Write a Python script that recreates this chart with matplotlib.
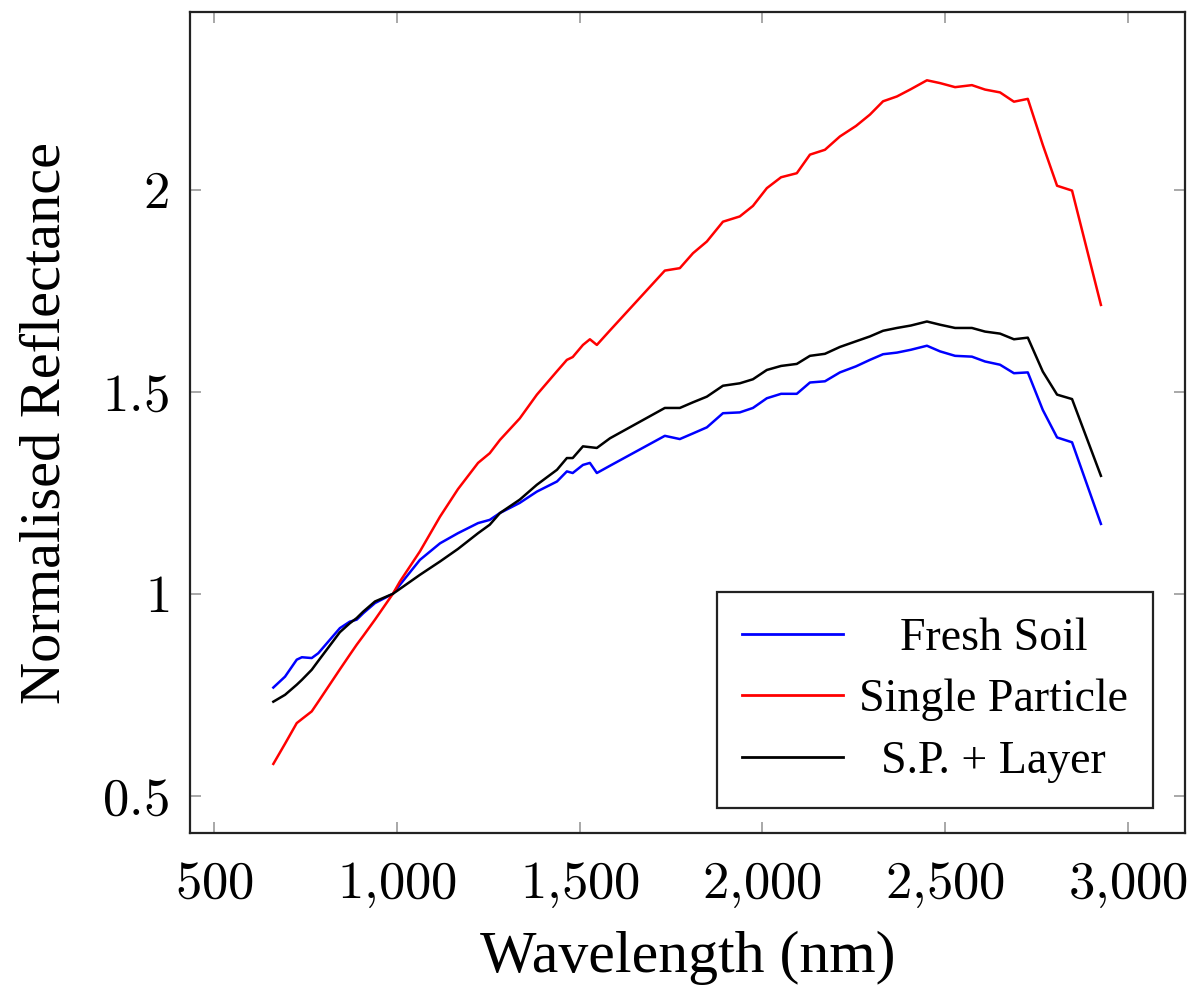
import matplotlib
matplotlib.use("Agg")
import matplotlib.pyplot as plt
from matplotlib.ticker import FixedLocator, FixedFormatter

# Wavelength (nm)
wavelength = [662, 694, 726, 740, 767, 785, 844, 871, 890, 908, 940, 989,
              1008, 1063, 1118, 1167, 1222, 1254, 1282, 1336, 1383, 1438, 1465,
              1481, 1509, 1528, 1547, 1583, 1733, 1774, 1810, 1848, 1892, 1938,
              1974, 2012, 2051, 2094, 2130, 2171, 2212, 2256, 2294, 2330, 2368,
              2406, 2450, 2486, 2527, 2573, 2609, 2650, 2688, 2726, 2767, 2806,
              2847, 2926]

fresh_soil = [0.768, 0.795, 0.837, 0.843, 0.841, 0.853, 0.915, 0.931, 0.936, 0.952,
              0.977, 1.000, 1.022, 1.084, 1.125, 1.150, 1.175, 1.183, 1.200, 1.225,
              1.253, 1.278, 1.303, 1.299, 1.319, 1.324, 1.299, 1.317, 1.391, 1.383,
              1.397, 1.412, 1.447, 1.449, 1.460, 1.484, 1.495, 1.495, 1.523, 1.526,
              1.548, 1.563, 1.579, 1.593, 1.597, 1.604, 1.614, 1.600, 1.589, 1.587,
              1.575, 1.567, 1.546, 1.548, 1.455, 1.387, 1.375, 1.173]

single_particle = [0.579, 0.629, 0.680, 0.690, 0.709, 0.733, 0.813, 0.849, 0.874, 0.896,
                   0.936, 1.000, 1.030, 1.105, 1.191, 1.259, 1.324, 1.348, 1.381, 1.434,
                   1.493, 1.551, 1.579, 1.586, 1.616, 1.630, 1.616, 1.652, 1.800, 1.806,
                   1.843, 1.872, 1.921, 1.934, 1.960, 2.004, 2.031, 2.041, 2.087, 2.099,
                   2.132, 2.158, 2.186, 2.219, 2.231, 2.249, 2.271, 2.264, 2.254, 2.259,
                   2.248, 2.241, 2.218, 2.225, 2.111, 2.010, 1.998, 1.715]

sp_layer = [0.733, 0.750, 0.775, 0.787, 0.812, 0.834, 0.905, 0.927, 0.940, 0.956,
            0.981, 1.000, 1.012, 1.047, 1.080, 1.111, 1.150, 1.171, 1.200, 1.233,
            1.270, 1.307, 1.336, 1.336, 1.365, 1.363, 1.361, 1.385, 1.460, 1.460,
            1.474, 1.488, 1.515, 1.521, 1.531, 1.554, 1.564, 1.569, 1.589, 1.594,
            1.611, 1.625, 1.637, 1.651, 1.658, 1.664, 1.674, 1.666, 1.658, 1.658,
            1.649, 1.644, 1.630, 1.634, 1.550, 1.493, 1.482, 1.292]

labels = ["Fresh Soil", "Single Particle", "S.P. + Layer"]
colors = ["#0000ff", "#ff0000", "#000000"]

x_ticks = [500, 1000, 1500, 2000, 2500, 3000]
x_tick_labels = [r"$500$", r"$1{,}000$", r"$1{,}500$", r"$2{,}000$", r"$2{,}500$", r"$3{,}000$"]
y_ticks = [0.5, 1.0, 1.5, 2.0]
y_tick_labels = [r"$0.5$", r"$1$", r"$1.5$", r"$2$"]

plt.rcParams["mathtext.fontset"] = "cm"
plt.rcParams["font.family"] = ["Liberation Serif", "DejaVu Serif"]

fig = plt.figure(figsize=(11.97, 9.94), dpi=100)
ax = fig.add_axes([190 / 1197, 1 - 833 / 994, 995 / 1197, 821 / 994])

for ys, lab, col in zip([fresh_soil, single_particle, sp_layer], labels, colors):
    ax.plot(wavelength, ys, color=col, lw=1.8, label=lab)

ax.set_xlim(434, 3156)
ax.set_ylim(0.408, 2.44)

ax.xaxis.set_major_locator(FixedLocator(x_ticks))
ax.xaxis.set_major_formatter(FixedFormatter(x_tick_labels))
ax.yaxis.set_major_locator(FixedLocator(y_ticks))
ax.yaxis.set_major_formatter(FixedFormatter(y_tick_labels))

ax.tick_params(axis="both", which="major", direction="in", length=8, width=1.2,
               color="#9a9a9a", top=True, right=True, labelsize=38)
ax.tick_params(axis="x", pad=20)
ax.tick_params(axis="y", pad=15)
for s in ax.spines.values():
    s.set_linewidth(1.6)
    s.set_color("#222222")

ax.set_xlabel("Wavelength (nm)", fontsize=43, labelpad=15)
ax.set_ylabel("Normalised Reflectance", fontsize=42, labelpad=22)

leg = ax.legend(loc="lower right", bbox_to_anchor=(0.968, 0.030), borderaxespad=0,
                fontsize=33, frameon=True, fancybox=False, framealpha=1,
                edgecolor="#222222", handlelength=2.2, handletextpad=0.35,
                labelspacing=0.42, borderpad=0.55)
leg.get_frame().set_linewidth(1.6)
for line in leg.get_lines():
    line.set_linewidth(2.0)

# centre legend texts as in the reference
fig.canvas.draw()
renderer = fig.canvas.get_renderer()
widths = [t.get_window_extent(renderer).width for t in leg.get_texts()]
wmax = max(widths)
for t, w in zip(leg.get_texts(), widths):
    t.set_x((wmax - w) / 2)

fig.savefig("out.png", dpi=100)
